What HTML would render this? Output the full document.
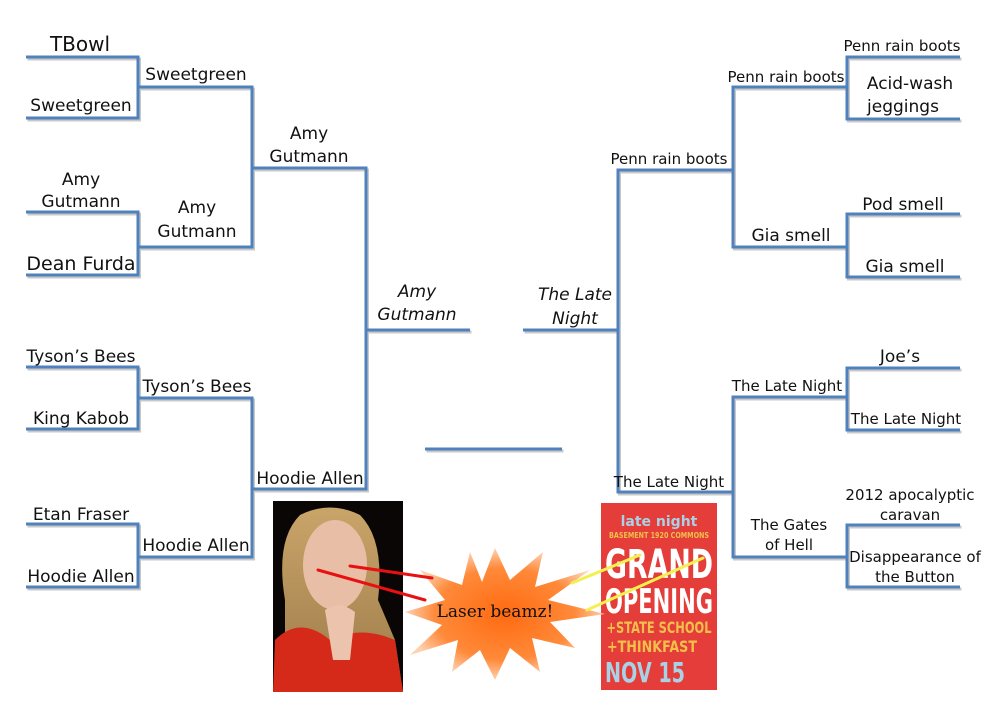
<!DOCTYPE html>
<html><head><meta charset="utf-8"><style>
body{margin:0;background:#fff;width:1000px;height:719px;overflow:hidden}
text{font-family:"DejaVu Sans","Liberation Sans",sans-serif;fill:#111}
</style></head><body>
<svg width="1000" height="719" viewBox="0 0 1000 719">
<defs>
<radialGradient id="burst" cx="50%" cy="50%" r="50%">
<stop offset="0" stop-color="#ff6a10"/><stop offset="0.7" stop-color="#ff8a3a"/><stop offset="1" stop-color="#ffd0b0"/>
</radialGradient>
<linearGradient id="hair" x1="0" y1="0" x2="0" y2="1"><stop offset="0" stop-color="#c9a56a"/><stop offset="1" stop-color="#9c7a48"/></linearGradient>
</defs>
<g stroke="#c8c8c8" stroke-width="3" fill="none" transform="translate(1.5,2)">
<path d="M26 57H138V118H26M26 212H138V275H26M26 367H138V429H26M26 524H138V587H26M138 87H252V247H138M138 398H252V557H138M252 168H366V489H252M366 330H470M425 449H562M960 57H847V119H960M960 214H847V277H960M960 368H847V430H960M960 525H847V587H960M847 87H733V247H847M847 397H733V557H847M733 170H618V492H733M618 330H523"/>
</g>
<g stroke="#4f81bd" stroke-width="3" fill="none">
<path d="M26 57H138V118H26M26 212H138V275H26M26 367H138V429H26M26 524H138V587H26M138 87H252V247H138M138 398H252V557H138M252 168H366V489H252M366 330H470M425 449H562M960 57H847V119H960M960 214H847V277H960M960 368H847V430H960M960 525H847V587H960M847 87H733V247H847M847 397H733V557H847M733 170H618V492H733M618 330H523"/>
</g>
<g font-size="17" text-anchor="middle">
<text x="80" y="51" font-size="20">TBowl</text>
<text x="81" y="111">Sweetgreen</text>
<text x="81" y="185">Amy</text><text x="81" y="207">Gutmann</text>
<text x="81" y="270" font-size="19">Dean Furda</text>
<text x="81" y="362">Tyson’s Bees</text>
<text x="81" y="424">King Kabob</text>
<text x="81" y="520">Etan Fraser</text>
<text x="81" y="582">Hoodie Allen</text>
<text x="196" y="80">Sweetgreen</text>
<text x="197" y="213">Amy</text><text x="197" y="237">Gutmann</text>
<text x="197" y="392">Tyson’s Bees</text>
<text x="196" y="551">Hoodie Allen</text>
<text x="309" y="139">Amy</text><text x="309" y="162">Gutmann</text>
<text x="310" y="484">Hoodie Allen</text>
<text x="417" y="297" font-style="italic">Amy</text><text x="417" y="320" font-style="italic">Gutmann</text>
<text x="575" y="300" font-style="italic">The Late</text><text x="575" y="324" font-style="italic">Night</text>
<text x="669" y="164" font-size="15">Penn rain boots</text>
<text x="669" y="487" font-size="15">The Late Night</text>
<text x="786" y="82" font-size="15">Penn rain boots</text>
<text x="791" y="241">Gia smell</text>
<text x="787" y="391" font-size="15">The Late Night</text>
<text x="789" y="530" font-size="15">The Gates</text><text x="789" y="550" font-size="15">of Hell</text>
<text x="902" y="51" font-size="15">Penn rain boots</text>
<text x="910" y="89">Acid-wash</text><text x="903" y="112">jeggings</text>
<text x="903" y="210">Pod smell</text>
<text x="905" y="272">Gia smell</text>
<text x="900" y="362">Joe’s</text>
<text x="906" y="424" font-size="15">The Late Night</text>
<text x="910" y="500" font-size="15">2012 apocalyptic</text><text x="910" y="520" font-size="15">caravan</text>
<text x="915" y="562" font-size="15">Disappearance of</text><text x="915" y="582" font-size="15">the Button</text>
</g>
<rect x="273" y="501" width="130" height="191" fill="#0a0605"/>
<path d="M285 692 L285 600 Q275 540 300 515 Q330 500 360 515 Q385 540 378 600 L395 640 L403 692Z" fill="url(#hair)"/>
<ellipse cx="335" cy="565" rx="32" ry="45" fill="#e8bfa6"/>
<path d="M273 692 L275 640 Q300 615 330 640 Q360 625 395 640 L403 692Z" fill="#d52a1a"/>
<path d="M325 610 Q340 600 355 612 L350 660 L333 660Z" fill="#ecc4ad"/>
<rect x="601" y="503" width="116" height="187" fill="#e43d3a"/>
<g font-family="Liberation Sans" text-anchor="middle" font-weight="bold">
<text x="659" y="526" font-size="14" style="fill:#a9d2e6">late night</text>
<text x="659" y="538" font-size="8" style="fill:#f2c04a" textLength="100" lengthAdjust="spacingAndGlyphs">BASEMENT 1920 COMMONS</text>
<text x="659" y="578" font-size="40" style="fill:#fff" textLength="108" lengthAdjust="spacingAndGlyphs">GRAND</text>
<text x="659" y="613" font-size="34" style="fill:#fff" textLength="108" lengthAdjust="spacingAndGlyphs">OPENING</text>
<text x="659" y="633" font-size="16" style="fill:#f2c04a" textLength="105" lengthAdjust="spacingAndGlyphs">+STATE SCHOOL</text>
<text x="652" y="652" font-size="16" style="fill:#f2c04a" textLength="90" lengthAdjust="spacingAndGlyphs">+THINKFAST</text>
<text x="645" y="682" font-size="28" style="fill:#a9d2e6" textLength="80" lengthAdjust="spacingAndGlyphs">NOV 15</text>
</g>
<polygon fill="url(#burst)" points="495,548 510,580 543,552 535,587 590,570 548,600 605,614 550,622 575,648 532,638 540,672 510,648 495,680 480,650 452,672 458,640 410,655 442,625 405,612 445,600 420,570 462,585 470,552 482,582" />
<text x="495" y="617" font-size="17" text-anchor="middle" style="font-family:'DejaVu Serif',serif;fill:#111">Laser beamz!</text>
<g stroke-width="3" stroke-linecap="round">
<line x1="350" y1="566" x2="432" y2="578" stroke="#e81010"/>
<line x1="318" y1="570" x2="425" y2="600" stroke="#e81010"/>
<line x1="572" y1="583" x2="640" y2="555" stroke="#f3f050"/>
<line x1="587" y1="610" x2="703" y2="558" stroke="#f3f050"/>
</g>
</svg>
</body></html>
